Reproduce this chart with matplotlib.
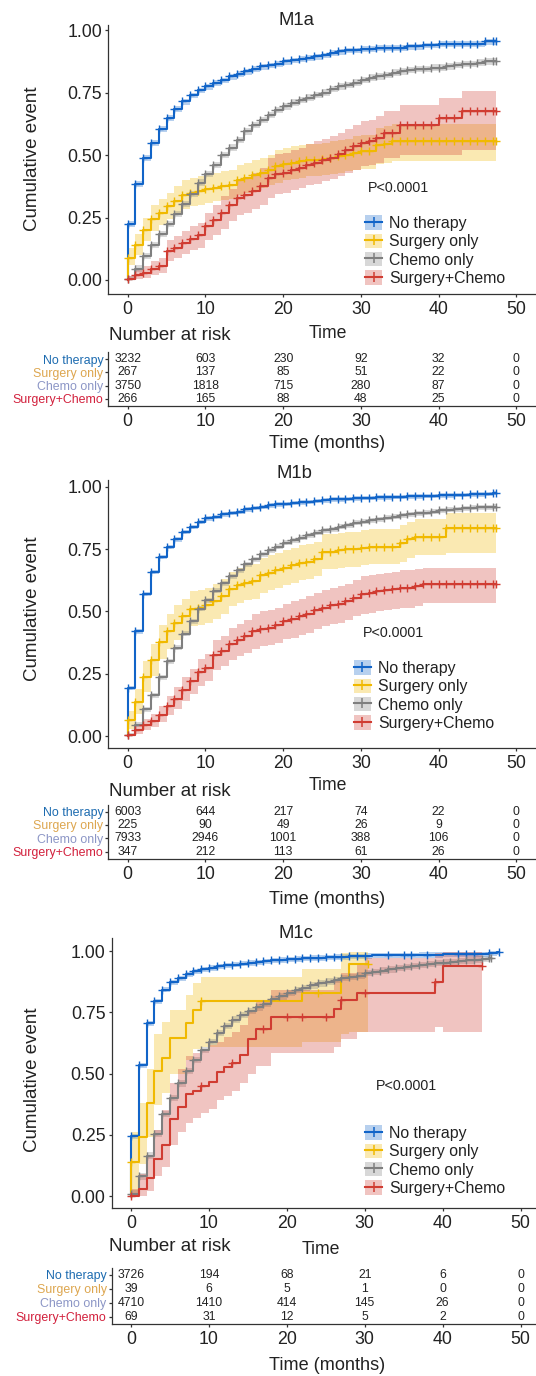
import matplotlib.pyplot as plt
from matplotlib.patches import Patch
from matplotlib.lines import Line2D

plt.rcParams['font.family'] = ['Liberation Sans', 'DejaVu Sans']

W, H = 536, 1376

groups = ["No therapy", "Surgery only", "Chemo only", "Surgery+Chemo"]
line_colors = ["#1164C8", "#F0B900", "#7F7F7F", "#D03C32"]
label_colors = ["#1C6BB0", "#DDA64F", "#8C96C6", "#D2203C"]
months = list(range(48))
risk_times = [0, 10, 20, 30, 40, 50]
x_ticks = [0, 10, 20, 30, 40, 50]
y_ticks = [0.0, 0.25, 0.5, 0.75, 1.0]
y_tick_labels = ["0.00", "0.25", "0.50", "0.75", "1.00"]

# ---------------- M1a ----------------
a_no = [0.225, 0.385, 0.49, 0.55, 0.605, 0.65, 0.685, 0.715, 0.74, 0.76,
        0.775, 0.79, 0.80, 0.815, 0.825, 0.835, 0.845, 0.855, 0.86, 0.865,
        0.875, 0.88, 0.885, 0.89, 0.895, 0.90, 0.91, 0.915, 0.92, 0.92,
        0.925, 0.925, 0.93, 0.93, 0.93, 0.93, 0.935, 0.935, 0.94, 0.94,
        0.945, 0.945, 0.945, 0.945, 0.945, 0.945, 0.955, 0.955]
a_no_lo = [0.212, 0.372, 0.477, 0.537, 0.592, 0.637, 0.672, 0.702, 0.727, 0.747,
           0.762, 0.777, 0.787, 0.802, 0.812, 0.822, 0.832, 0.842, 0.847, 0.852,
           0.862, 0.867, 0.872, 0.877, 0.882, 0.887, 0.897, 0.902, 0.907, 0.907,
           0.912, 0.912, 0.917, 0.917, 0.917, 0.917, 0.922, 0.922, 0.927, 0.927,
           0.932, 0.932, 0.932, 0.932, 0.932, 0.932, 0.942, 0.942]
a_no_hi = [0.235, 0.395, 0.5, 0.56, 0.615, 0.66, 0.695, 0.725, 0.75, 0.77,
           0.785, 0.8, 0.81, 0.825, 0.835, 0.845, 0.855, 0.865, 0.87, 0.875,
           0.885, 0.89, 0.895, 0.9, 0.905, 0.91, 0.92, 0.925, 0.93, 0.93,
           0.935, 0.935, 0.94, 0.94, 0.94, 0.94, 0.945, 0.945, 0.95, 0.95,
           0.955, 0.955, 0.955, 0.955, 0.955, 0.955, 0.965, 0.965]
a_su = [0.09, 0.14, 0.20, 0.245, 0.27, 0.295, 0.315, 0.34, 0.35, 0.355,
        0.365, 0.37, 0.375, 0.38, 0.40, 0.41, 0.42, 0.43, 0.44, 0.455,
        0.465, 0.47, 0.475, 0.48, 0.48, 0.485, 0.49, 0.495, 0.50, 0.51,
        0.515, 0.515, 0.54, 0.545] + [0.555] * 14
a_su_lo = [0.06, 0.10, 0.155, 0.195, 0.22, 0.245, 0.26, 0.285, 0.295, 0.30,
           0.31, 0.315, 0.32, 0.325, 0.34, 0.35, 0.36, 0.37, 0.38, 0.39,
           0.40, 0.405, 0.41, 0.415, 0.415, 0.42, 0.425, 0.43, 0.435, 0.44,
           0.445, 0.445, 0.465, 0.47] + [0.475] * 14
a_su_hi = [0.13, 0.185, 0.25, 0.30, 0.325, 0.35, 0.375, 0.40, 0.41, 0.415,
           0.425, 0.43, 0.435, 0.44, 0.46, 0.47, 0.48, 0.49, 0.50, 0.52,
           0.53, 0.535, 0.54, 0.545, 0.545, 0.55, 0.555, 0.56, 0.565, 0.575,
           0.58, 0.58, 0.61, 0.615] + [0.625] * 14
a_ch = [0.005, 0.046, 0.096, 0.14, 0.185, 0.225, 0.265, 0.305, 0.345, 0.39,
        0.425, 0.46, 0.50, 0.53, 0.56, 0.595, 0.62, 0.64, 0.66, 0.68,
        0.695, 0.71, 0.72, 0.73, 0.74, 0.75, 0.765, 0.775, 0.78, 0.79,
        0.80, 0.81, 0.815, 0.82, 0.83, 0.835, 0.84, 0.845, 0.845, 0.85,
        0.85, 0.855, 0.86, 0.865, 0.865, 0.87, 0.875, 0.875]
a_ch_lo = [0.0, 0.033, 0.083, 0.127, 0.172, 0.212, 0.252, 0.292, 0.332, 0.377,
           0.412, 0.447, 0.487, 0.517, 0.547, 0.582, 0.607, 0.627, 0.647, 0.667,
           0.682, 0.697, 0.707, 0.717, 0.727, 0.737, 0.752, 0.762, 0.767, 0.777,
           0.787, 0.797, 0.802, 0.807, 0.817, 0.822, 0.827, 0.832, 0.832, 0.837,
           0.837, 0.842, 0.847, 0.852, 0.852, 0.857, 0.862, 0.862]
a_ch_hi = [0.018, 0.059, 0.109, 0.153, 0.198, 0.238, 0.278, 0.318, 0.358, 0.403,
           0.438, 0.473, 0.513, 0.543, 0.573, 0.608, 0.633, 0.653, 0.673, 0.693,
           0.708, 0.723, 0.733, 0.743, 0.753, 0.763, 0.778, 0.788, 0.793, 0.803,
           0.813, 0.823, 0.828, 0.833, 0.843, 0.848, 0.853, 0.858, 0.858, 0.863,
           0.863, 0.868, 0.873, 0.878, 0.878, 0.883, 0.888, 0.888]
a_sc = [0.004, 0.02, 0.03, 0.045, 0.057, 0.115, 0.13, 0.15, 0.165, 0.18,
        0.215, 0.24, 0.27, 0.30, 0.33, 0.34, 0.355, 0.375, 0.41, 0.425,
        0.43, 0.44, 0.45, 0.46, 0.47, 0.48, 0.49, 0.505, 0.52, 0.535,
        0.55, 0.555, 0.57, 0.59, 0.59] + [0.622] * 5 + [0.65] * 3 + [0.675] * 5
a_sc_lo = [0.0, 0.005, 0.01, 0.02, 0.03, 0.075, 0.09, 0.105, 0.12, 0.13,
           0.16, 0.18, 0.205, 0.235, 0.26, 0.27, 0.285, 0.30, 0.33, 0.345,
           0.35, 0.36, 0.37, 0.38, 0.385, 0.395, 0.405, 0.415, 0.43, 0.44,
           0.455, 0.46, 0.47, 0.49, 0.49] + [0.50] * 8 + [0.52] * 5
a_sc_hi = [0.015, 0.04, 0.055, 0.075, 0.09, 0.16, 0.175, 0.195, 0.215, 0.23,
           0.27, 0.30, 0.335, 0.365, 0.40, 0.41, 0.43, 0.45, 0.49, 0.505,
           0.51, 0.52, 0.53, 0.545, 0.555, 0.565, 0.575, 0.59, 0.605, 0.62,
           0.635, 0.64, 0.655, 0.675, 0.675] + [0.70] * 5 + [0.73] * 3 + [0.755] * 5
a_risk = [[3232, 603, 230, 92, 32, 0],
          [267, 137, 85, 51, 22, 0],
          [3750, 1818, 715, 280, 87, 0],
          [266, 165, 88, 48, 25, 0]]

# ---------------- M1b ----------------
b_no = [0.194, 0.42, 0.57, 0.66, 0.72, 0.76, 0.79, 0.82, 0.84, 0.86,
        0.873, 0.88, 0.89, 0.895, 0.90, 0.91, 0.915, 0.92, 0.925, 0.93,
        0.932, 0.935, 0.938, 0.94, 0.943, 0.946, 0.95, 0.95, 0.952, 0.954,
        0.955, 0.956, 0.957, 0.958, 0.959, 0.96, 0.961, 0.962, 0.963, 0.964,
        0.965, 0.966, 0.967, 0.968, 0.969, 0.97, 0.972, 0.975]
b_no_lo = [0.184, 0.41, 0.56, 0.65, 0.71, 0.75, 0.78, 0.81, 0.83, 0.85,
           0.863, 0.87, 0.88, 0.885, 0.89, 0.90, 0.905, 0.91, 0.915, 0.92,
           0.922, 0.925, 0.928, 0.93, 0.933, 0.936, 0.94, 0.94, 0.942, 0.944,
           0.945, 0.946, 0.947, 0.948, 0.949, 0.95, 0.951, 0.952, 0.953, 0.954,
           0.955, 0.956, 0.957, 0.958, 0.959, 0.96, 0.962, 0.965]
b_no_hi = [0.202, 0.428, 0.578, 0.668, 0.728, 0.768, 0.798, 0.828, 0.848, 0.868,
           0.881, 0.888, 0.898, 0.903, 0.908, 0.918, 0.923, 0.928, 0.933, 0.938,
           0.94, 0.943, 0.946, 0.948, 0.951, 0.954, 0.958, 0.958, 0.96, 0.962,
           0.963, 0.964, 0.965, 0.966, 0.967, 0.968, 0.969, 0.97, 0.971, 0.972,
           0.973, 0.974, 0.975, 0.976, 0.977, 0.978, 0.98, 0.983]
b_su = [0.065, 0.138, 0.235, 0.305, 0.378, 0.42, 0.455, 0.48, 0.51, 0.515,
        0.525, 0.54, 0.56, 0.59, 0.605, 0.615, 0.62, 0.645, 0.655, 0.665,
        0.675, 0.685, 0.695, 0.70, 0.71, 0.74, 0.74, 0.745, 0.75, 0.75,
        0.755, 0.76, 0.76, 0.76, 0.76, 0.775, 0.79, 0.80, 0.80, 0.80,
        0.80] + [0.835] * 7
b_su_lo = [0.03, 0.09, 0.175, 0.24, 0.31, 0.35, 0.385, 0.41, 0.44, 0.445,
           0.455, 0.47, 0.49, 0.52, 0.535, 0.545, 0.55, 0.575, 0.585, 0.595,
           0.605, 0.615, 0.625, 0.63, 0.64, 0.67, 0.67, 0.675, 0.68, 0.68,
           0.685, 0.69, 0.69, 0.69, 0.69, 0.70, 0.715, 0.725, 0.725, 0.725,
           0.725] + [0.735] * 7
b_su_hi = [0.10, 0.19, 0.30, 0.37, 0.445, 0.49, 0.525, 0.55, 0.58, 0.585,
           0.595, 0.61, 0.63, 0.66, 0.675, 0.685, 0.69, 0.715, 0.725, 0.735,
           0.745, 0.755, 0.765, 0.77, 0.78, 0.81, 0.81, 0.815, 0.82, 0.82,
           0.825, 0.83, 0.83, 0.83, 0.83, 0.845, 0.86, 0.87, 0.87, 0.87,
           0.87] + [0.895] * 7
b_ch = [0.005, 0.045, 0.107, 0.164, 0.235, 0.30, 0.355, 0.41, 0.46, 0.51,
        0.545, 0.583, 0.612, 0.64, 0.665, 0.69, 0.71, 0.73, 0.745, 0.76,
        0.775, 0.785, 0.795, 0.805, 0.815, 0.825, 0.83, 0.84, 0.845, 0.855,
        0.86, 0.865, 0.87, 0.875, 0.88, 0.885, 0.89, 0.893, 0.896, 0.90,
        0.905, 0.908, 0.91, 0.913, 0.915, 0.917, 0.918, 0.92]
b_ch_lo = [0.0, 0.035, 0.097, 0.154, 0.225, 0.29, 0.345, 0.40, 0.45, 0.50,
           0.535, 0.573, 0.602, 0.63, 0.655, 0.68, 0.70, 0.72, 0.735, 0.75,
           0.765, 0.775, 0.785, 0.795, 0.805, 0.815, 0.82, 0.83, 0.835, 0.845,
           0.85, 0.855, 0.86, 0.865, 0.87, 0.875, 0.88, 0.883, 0.886, 0.89,
           0.895, 0.898, 0.90, 0.903, 0.905, 0.907, 0.908, 0.91]
b_ch_hi = [0.012, 0.055, 0.117, 0.174, 0.245, 0.31, 0.365, 0.42, 0.47, 0.52,
           0.555, 0.593, 0.622, 0.65, 0.675, 0.70, 0.72, 0.74, 0.755, 0.77,
           0.785, 0.795, 0.805, 0.815, 0.825, 0.835, 0.84, 0.85, 0.855, 0.865,
           0.87, 0.875, 0.88, 0.885, 0.89, 0.895, 0.90, 0.903, 0.906, 0.91,
           0.915, 0.918, 0.92, 0.923, 0.925, 0.927, 0.928, 0.93]
b_sc = [0.003, 0.025, 0.045, 0.06, 0.085, 0.12, 0.15, 0.185, 0.22, 0.255,
        0.275, 0.325, 0.34, 0.37, 0.385, 0.40, 0.42, 0.43, 0.435, 0.445,
        0.46, 0.47, 0.48, 0.49, 0.505, 0.515, 0.525, 0.53, 0.54, 0.555,
        0.57, 0.575, 0.58, 0.585, 0.59, 0.595, 0.595, 0.60] + [0.61] * 10
b_sc_lo = [0.0, 0.01, 0.025, 0.035, 0.055, 0.085, 0.11, 0.14, 0.17, 0.20,
           0.22, 0.265, 0.28, 0.305, 0.32, 0.335, 0.35, 0.36, 0.365, 0.375,
           0.39, 0.395, 0.405, 0.415, 0.43, 0.44, 0.45, 0.455, 0.465, 0.48,
           0.49, 0.495, 0.50, 0.505, 0.51, 0.515, 0.515, 0.52] + [0.535] * 10
b_sc_hi = [0.01, 0.045, 0.07, 0.09, 0.12, 0.16, 0.195, 0.235, 0.27, 0.31,
           0.33, 0.385, 0.40, 0.435, 0.45, 0.465, 0.49, 0.50, 0.505, 0.515,
           0.53, 0.54, 0.55, 0.56, 0.575, 0.585, 0.595, 0.60, 0.61, 0.625,
           0.64, 0.645, 0.65, 0.655, 0.66, 0.665, 0.665, 0.67] + [0.675] * 10
b_risk = [[6003, 644, 217, 74, 22, 0],
          [225, 90, 49, 26, 9, 0],
          [7933, 2946, 1001, 388, 106, 0],
          [347, 212, 113, 61, 26, 0]]

# ---------------- M1c ----------------
c_no = [0.245, 0.535, 0.705, 0.795, 0.843, 0.872, 0.89, 0.905, 0.917, 0.925,
        0.932, 0.937, 0.941, 0.945, 0.949, 0.952, 0.955, 0.958, 0.962, 0.965,
        0.967, 0.969, 0.971, 0.972, 0.973, 0.975, 0.976, 0.977, 0.978, 0.979,
        0.981, 0.982, 0.982, 0.983, 0.983, 0.984, 0.984, 0.985, 0.985, 0.985,
        0.986, 0.986, 0.986, 0.987, 0.987, 0.988, 0.99, 0.995]
c_no_lo = [0.233, 0.523, 0.693, 0.783, 0.831, 0.86, 0.878, 0.893, 0.905, 0.913,
           0.92, 0.925, 0.929, 0.933, 0.937, 0.94, 0.943, 0.946, 0.95, 0.953,
           0.955, 0.957, 0.959, 0.96, 0.961, 0.963, 0.964, 0.965, 0.966, 0.967,
           0.969, 0.97, 0.97, 0.971, 0.971, 0.972, 0.972, 0.973, 0.973, 0.973,
           0.974, 0.974, 0.974, 0.975, 0.975, 0.976, 0.978, 0.983]
c_no_hi = [0.255, 0.545, 0.715, 0.805, 0.853, 0.882, 0.9, 0.915, 0.927, 0.935,
           0.942, 0.947, 0.951, 0.955, 0.959, 0.962, 0.965, 0.968, 0.972, 0.975,
           0.977, 0.979, 0.981, 0.982, 0.983, 0.985, 0.986, 0.987, 0.988, 0.989,
           0.991, 0.992, 0.992, 0.993, 0.993, 0.994, 0.994, 0.995, 0.995, 0.995,
           0.996, 0.996, 0.996, 0.997, 0.997, 0.998, 1.0, 1.0]
c_su = [0.14, 0.24, 0.38, 0.51, 0.565, 0.645, 0.645, 0.705, 0.76] + [0.795] * 13 \
    + [0.83] * 5 + [0.888] + [0.946] * 3
c_su_lo = [0.01, 0.13, 0.24, 0.37, 0.42, 0.50, 0.50, 0.555, 0.60] + [0.61] * 13 \
    + [0.63] * 5 + [0.66] + [0.67] * 3
c_su_hi = [0.26, 0.38, 0.52, 0.66, 0.71, 0.76, 0.76, 0.82, 0.87] + [0.895] * 13 \
    + [0.925] * 5 + [0.99] + [0.995] * 3
c_ch = [0.01, 0.08, 0.165, 0.255, 0.335, 0.40, 0.46, 0.51, 0.555, 0.595,
        0.63, 0.665, 0.695, 0.72, 0.74, 0.755, 0.77, 0.785, 0.805, 0.815,
        0.83, 0.84, 0.85, 0.86, 0.868, 0.875, 0.882, 0.89, 0.895, 0.90,
        0.91, 0.915, 0.92, 0.925, 0.93, 0.935, 0.938, 0.942, 0.946, 0.95,
        0.953, 0.956, 0.959, 0.962, 0.965, 0.968, 0.972]
c_ch_lo = [0.0, 0.067, 0.152, 0.242, 0.322, 0.387, 0.447, 0.497, 0.542, 0.582,
           0.617, 0.652, 0.682, 0.707, 0.727, 0.742, 0.757, 0.772, 0.792, 0.802,
           0.817, 0.827, 0.837, 0.847, 0.855, 0.862, 0.869, 0.877, 0.882, 0.887,
           0.897, 0.902, 0.907, 0.912, 0.917, 0.922, 0.925, 0.929, 0.933, 0.937,
           0.94, 0.943, 0.946, 0.949, 0.952, 0.955, 0.959]
c_ch_hi = [0.023, 0.093, 0.178, 0.268, 0.348, 0.413, 0.473, 0.523, 0.568, 0.608,
           0.643, 0.678, 0.708, 0.733, 0.753, 0.768, 0.783, 0.798, 0.818, 0.828,
           0.843, 0.853, 0.863, 0.873, 0.881, 0.888, 0.895, 0.903, 0.908, 0.913,
           0.923, 0.928, 0.933, 0.938, 0.943, 0.948, 0.951, 0.955, 0.959, 0.963,
           0.966, 0.969, 0.972, 0.975, 0.978, 0.981, 0.985]
c_sc = [0.0, 0.03, 0.075, 0.15, 0.21, 0.315, 0.365, 0.415, 0.43, 0.45,
        0.465, 0.505, 0.525, 0.545, 0.575, 0.64, 0.68, 0.68] + [0.73] * 8 \
    + [0.765, 0.80, 0.80] + [0.83] * 10 + [0.875] + [0.938] * 5
c_sc_lo = [0.0, 0.0, 0.02, 0.08, 0.12, 0.21, 0.26, 0.30, 0.32, 0.34,
           0.355, 0.39, 0.41, 0.43, 0.46, 0.50, 0.53, 0.53] + [0.585] * 8 \
    + [0.61, 0.64, 0.64] + [0.67] * 10 + [0.69] + [0.67] * 5
c_sc_hi = [0.03, 0.09, 0.16, 0.27, 0.35, 0.46, 0.52, 0.57, 0.585, 0.60,
           0.615, 0.63, 0.65, 0.67, 0.70, 0.75, 0.79, 0.79] + [0.84] * 8 \
    + [0.88, 0.91, 0.91, 0.95] + [0.97] * 9 + [0.99] + [0.995] * 5
c_risk = [[3726, 194, 68, 21, 6, 0],
          [39, 6, 5, 1, 0, 0],
          [4710, 1410, 414, 145, 26, 0],
          [69, 31, 12, 5, 2, 0]]

# curve end times and censor-mark times
ab_end = 47.4
c_ends = [47.3, 30.4, 46.2, 45.0]
c_no_cens = list(range(31)) + [33, 35, 36, 38, 42, 43, 44, 46, 47.3]
c_su_cens = [0, 9, 24, 30.4]
c_ch_cens = months[:47] + [46.2]
c_sc_cens = [0, 9, 13, 17, 20, 22, 25, 27, 30, 39, 45.0]


def fig_rect(left, top, right, bottom):
    return [left / W, 1 - bottom / H, (right - left) / W, (bottom - top) / H]


def draw_curve(ax, est, lo, hi, end, cens, color):
    t = list(range(len(est))) + [end]
    ax.fill_between(t, lo + [lo[-1]], hi + [hi[-1]], step='post',
                    color=color, alpha=0.3, lw=0)
    ax.step([0] + t, [0] + est + [est[-1]], where='post', color=color, lw=1.5)
    cy = [est[min(int(c), len(est) - 1)] for c in cens]
    ax.plot(cens, cy, ls='none', marker='+', ms=5.5, mew=1.0, color=color)


def style_axis(ax):
    for s in ['top', 'right']:
        ax.spines[s].set_visible(False)
    for s in ['left', 'bottom']:
        ax.spines[s].set_color('#333333')
        ax.spines[s].set_linewidth(0.9)
    ax.tick_params(colors='#333333', width=0.9, length=2.4, labelcolor='#222222')


def panel(fig, cfg):
    ax = fig.add_axes(fig_rect(*cfg['main']))
    for est, lo, hi, end, cens, col in zip(*cfg['curves'], line_colors):
        draw_curve(ax, est, lo, hi, end, cens, col)
    ax.set_xlim(-2.5, 52.5)
    ax.set_ylim(*cfg['ylim'])
    ax.set_xticks(x_ticks)
    ax.set_yticks(y_ticks)
    ax.set_yticklabels(y_tick_labels)
    style_axis(ax)
    ax.tick_params(axis='x', labelsize=12.8, pad=2.4)
    ax.tick_params(axis='y', labelsize=12.8, pad=2.0)

    handles = [(Patch(facecolor=c, alpha=0.3, lw=0),
                Line2D([], [], color=c, lw=1.5, marker='+', ms=7, mew=1.1))
               for c in line_colors]
    lx, ly = cfg['legend']
    ax.legend(handles, groups, loc='upper left', frameon=False,
              bbox_to_anchor=(lx / W, 1 - (ly - 6.3) / H),
              bbox_transform=fig.transFigure, borderpad=0, borderaxespad=0,
              handlelength=1.08, handleheight=1.0, handletextpad=0.45,
              labelspacing=0.18, fontsize=11.4, numpoints=1, labelcolor='#222222')

    tx, ty = cfg['title']
    fig.text(tx / W, 1 - ty / H, cfg['name'], ha='center', va='center',
             fontsize=13.3, color='#222222')
    fig.text(32.5 / W, 1 - cfg['ylab'] / H, 'Cumulative event', rotation=90,
             ha='center', va='center', fontsize=13.5, color='#222222')
    px, py = cfg['p']
    fig.text(px / W, 1 - py / H, 'P<0.0001', ha='left', va='center',
             fontsize=10.3, color='#222222')
    tx, ty = cfg['time']
    fig.text(tx / W, 1 - ty / H, 'Time', ha='center', va='center',
             fontsize=12.7, color='#222222')
    fig.text(109.4 / W, 1 - cfg['nar'] / H, 'Number at risk', ha='left',
             va='center', fontsize=13.5, color='#222222')

    # risk table
    tb = fig.add_axes(fig_rect(*cfg['table']))
    tb.set_xlim(-2.5, 52.5)
    tb.set_ylim(*cfg['tylim'])
    for i, row in enumerate(cfg['risk']):
        for t, n in zip(risk_times, row):
            tb.text(t, 3 - i, str(n), ha='center', va='center',
                    fontsize=8.85, color='#222222')
    tb.set_xticks(x_ticks)
    tb.set_yticks([3, 2, 1, 0])
    tb.set_yticklabels(groups)
    style_axis(tb)
    tb.tick_params(axis='x', labelsize=12.8, pad=2.4)
    tb.tick_params(axis='y', labelsize=8.9, pad=1.5, length=2.0)
    for lab, c in zip(tb.get_yticklabels(), label_colors):
        lab.set_color(c)
    fig.text(327 / W, 1 - cfg['tm'] / H, 'Time (months)', ha='center',
             va='center', fontsize=13.1, color='#222222')


fig = plt.figure(figsize=(W / 100, H / 100), dpi=100)

panels = [
    dict(name='M1a', main=(108.3, 25, 535.7, 294), ylim=(-0.056, 1.020),
         table=(108.3, 351.7, 535.7, 406), tylim=(-0.53, 3.57),
         curves=([a_no, a_su, a_ch, a_sc],
                 [a_no_lo, a_su_lo, a_ch_lo, a_sc_lo],
                 [a_no_hi, a_su_hi, a_ch_hi, a_sc_hi],
                 [ab_end] * 4,
                 [months + [ab_end]] * 4),
         risk=a_risk, title=(296.4, 20.7), ylab=159, time=(328, 333.3),
         nar=336, tm=444, legend=(365, 221.7), p=(367.5, 188.3)),
    dict(name='M1b', main=(108.3, 480, 535.7, 748.3), ylim=(-0.049, 1.027),
         table=(108.3, 805, 535.7, 859), tylim=(-0.55, 3.5),
         curves=([b_no, b_su, b_ch, b_sc],
                 [b_no_lo, b_su_lo, b_ch_lo, b_sc_lo],
                 [b_no_hi, b_su_hi, b_ch_hi, b_sc_hi],
                 [ab_end] * 4,
                 [months + [ab_end]] * 4),
         risk=b_risk, title=(294, 473.3), ylab=609.2, time=(328, 785),
         nar=791.7, tm=899.3, legend=(353.8, 666.7), p=(362.4, 633.3)),
    dict(name='M1c', main=(111.5, 938.3, 540, 1208.3), ylim=(-0.05, 1.052),
         table=(111.5, 1268.3, 540, 1324), tylim=(-0.525, 3.48),
         curves=([c_no, c_su, c_ch, c_sc],
                 [c_no_lo, c_su_lo, c_ch_lo, c_sc_lo],
                 [c_no_hi, c_su_hi, c_ch_hi, c_sc_hi],
                 c_ends,
                 [c_no_cens, c_su_cens, c_ch_cens, c_sc_cens]),
         risk=c_risk, title=(296.4, 933.3), ylab=1080, time=(321, 1249.3),
         nar=1246.7, tm=1365, legend=(365, 1131.7), p=(375.4, 1085.7)),
]

for cfg in panels:
    panel(fig, cfg)

fig.savefig('out.png', dpi=100)
